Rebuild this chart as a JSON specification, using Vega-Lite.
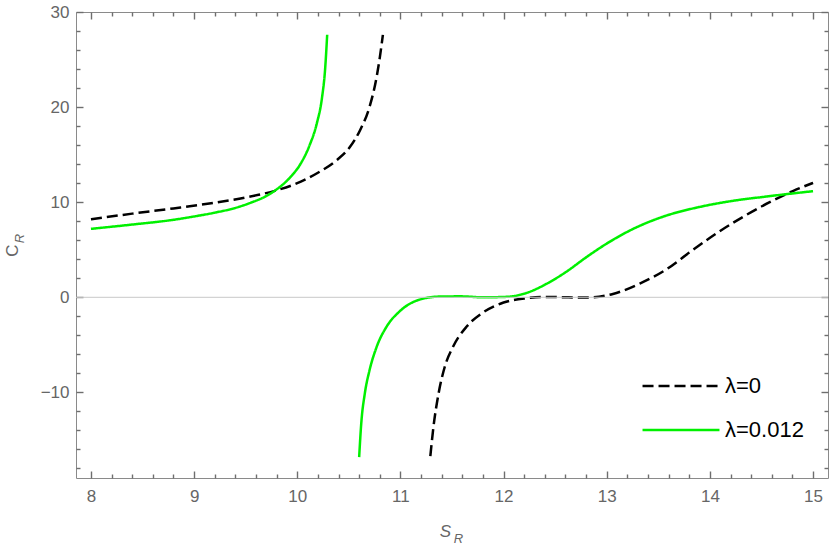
{
  "$schema": "https://vega.github.io/schema/vega-lite/v6.json",
  "width": 752,
  "height": 466,
  "autosize": {"type": "none"},
  "padding": {"left": 76, "top": 12, "right": 2, "bottom": 69},
  "background": "white",
  "config": {
    "view": {"stroke": "#8a8a8a", "strokeWidth": 1},
    "axis": {"domain": false, "grid": false, "labelFont": "Liberation Sans", "titleFont": "Liberation Sans", "labelColor": "#666666", "titleColor": "#666666", "titleFontWeight": "normal"}
  },
  "datasets": {
    "curves": [
      {"s": 8.0, "c": 8.2, "lam": "λ=0", "branch": "a1"},
      {"s": 8.4, "c": 8.8, "lam": "λ=0", "branch": "a1"},
      {"s": 8.8, "c": 9.35, "lam": "λ=0", "branch": "a1"},
      {"s": 9.2, "c": 9.95, "lam": "λ=0", "branch": "a1"},
      {"s": 9.5, "c": 10.5, "lam": "λ=0", "branch": "a1"},
      {"s": 9.8, "c": 11.25, "lam": "λ=0", "branch": "a1"},
      {"s": 10.0, "c": 12.0, "lam": "λ=0", "branch": "a1"},
      {"s": 10.2, "c": 13.1, "lam": "λ=0", "branch": "a1"},
      {"s": 10.38, "c": 14.4, "lam": "λ=0", "branch": "a1"},
      {"s": 10.51, "c": 15.8, "lam": "λ=0", "branch": "a1"},
      {"s": 10.61, "c": 17.6, "lam": "λ=0", "branch": "a1"},
      {"s": 10.7, "c": 20.0, "lam": "λ=0", "branch": "a1"},
      {"s": 10.77, "c": 23.2, "lam": "λ=0", "branch": "a1"},
      {"s": 10.8, "c": 25.2, "lam": "λ=0", "branch": "a1"},
      {"s": 10.83, "c": 27.6, "lam": "λ=0", "branch": "a1"},
      {"s": 11.29, "c": -16.7, "lam": "λ=0", "branch": "a2"},
      {"s": 11.32, "c": -13.65, "lam": "λ=0", "branch": "a2"},
      {"s": 11.37, "c": -10.1, "lam": "λ=0", "branch": "a2"},
      {"s": 11.43, "c": -7.3, "lam": "λ=0", "branch": "a2"},
      {"s": 11.51, "c": -5.2, "lam": "λ=0", "branch": "a2"},
      {"s": 11.64, "c": -3.1, "lam": "λ=0", "branch": "a2"},
      {"s": 11.8, "c": -1.6, "lam": "λ=0", "branch": "a2"},
      {"s": 12.0, "c": -0.55, "lam": "λ=0", "branch": "a2"},
      {"s": 12.22, "c": -0.1, "lam": "λ=0", "branch": "a2"},
      {"s": 12.4, "c": 0.04, "lam": "λ=0", "branch": "a2"},
      {"s": 12.61, "c": 0.0, "lam": "λ=0", "branch": "a2"},
      {"s": 12.82, "c": -0.02, "lam": "λ=0", "branch": "a2"},
      {"s": 13.06, "c": 0.35, "lam": "λ=0", "branch": "a2"},
      {"s": 13.32, "c": 1.44, "lam": "λ=0", "branch": "a2"},
      {"s": 13.58, "c": 2.95, "lam": "λ=0", "branch": "a2"},
      {"s": 13.8, "c": 4.7, "lam": "λ=0", "branch": "a2"},
      {"s": 14.06, "c": 6.7, "lam": "λ=0", "branch": "a2"},
      {"s": 14.32, "c": 8.45, "lam": "λ=0", "branch": "a2"},
      {"s": 14.58, "c": 10.0, "lam": "λ=0", "branch": "a2"},
      {"s": 14.81, "c": 11.2, "lam": "λ=0", "branch": "a2"},
      {"s": 15.0, "c": 12.03, "lam": "λ=0", "branch": "a2"},
      {"s": 8.0, "c": 7.2, "lam": "λ=0.012", "branch": "b1"},
      {"s": 8.4, "c": 7.65, "lam": "λ=0.012", "branch": "b1"},
      {"s": 8.8, "c": 8.15, "lam": "λ=0.012", "branch": "b1"},
      {"s": 9.0, "c": 8.5, "lam": "λ=0.012", "branch": "b1"},
      {"s": 9.2, "c": 8.9, "lam": "λ=0.012", "branch": "b1"},
      {"s": 9.4, "c": 9.4, "lam": "λ=0.012", "branch": "b1"},
      {"s": 9.55, "c": 9.95, "lam": "λ=0.012", "branch": "b1"},
      {"s": 9.7, "c": 10.65, "lam": "λ=0.012", "branch": "b1"},
      {"s": 9.8, "c": 11.35, "lam": "λ=0.012", "branch": "b1"},
      {"s": 9.93, "c": 12.6, "lam": "λ=0.012", "branch": "b1"},
      {"s": 10.03, "c": 14.0, "lam": "λ=0.012", "branch": "b1"},
      {"s": 10.12, "c": 16.0, "lam": "λ=0.012", "branch": "b1"},
      {"s": 10.19, "c": 18.3, "lam": "λ=0.012", "branch": "b1"},
      {"s": 10.24, "c": 21.0, "lam": "λ=0.012", "branch": "b1"},
      {"s": 10.27, "c": 24.0, "lam": "λ=0.012", "branch": "b1"},
      {"s": 10.29, "c": 27.6, "lam": "λ=0.012", "branch": "b1"},
      {"s": 10.6, "c": -16.8, "lam": "λ=0.012", "branch": "b2"},
      {"s": 10.62, "c": -13.3, "lam": "λ=0.012", "branch": "b2"},
      {"s": 10.655, "c": -10.1, "lam": "λ=0.012", "branch": "b2"},
      {"s": 10.7, "c": -7.7, "lam": "λ=0.012", "branch": "b2"},
      {"s": 10.77, "c": -5.2, "lam": "λ=0.012", "branch": "b2"},
      {"s": 10.865, "c": -3.1, "lam": "λ=0.012", "branch": "b2"},
      {"s": 10.99, "c": -1.5, "lam": "λ=0.012", "branch": "b2"},
      {"s": 11.17, "c": -0.3, "lam": "λ=0.012", "branch": "b2"},
      {"s": 11.38, "c": 0.08, "lam": "λ=0.012", "branch": "b2"},
      {"s": 11.58, "c": 0.1, "lam": "λ=0.012", "branch": "b2"},
      {"s": 11.8, "c": 0.0, "lam": "λ=0.012", "branch": "b2"},
      {"s": 12.03, "c": 0.05, "lam": "λ=0.012", "branch": "b2"},
      {"s": 12.22, "c": 0.45, "lam": "λ=0.012", "branch": "b2"},
      {"s": 12.42, "c": 1.44, "lam": "λ=0.012", "branch": "b2"},
      {"s": 12.61, "c": 2.7, "lam": "λ=0.012", "branch": "b2"},
      {"s": 12.8, "c": 4.2, "lam": "λ=0.012", "branch": "b2"},
      {"s": 13.0, "c": 5.65, "lam": "λ=0.012", "branch": "b2"},
      {"s": 13.25, "c": 7.16, "lam": "λ=0.012", "branch": "b2"},
      {"s": 13.58, "c": 8.6, "lam": "λ=0.012", "branch": "b2"},
      {"s": 13.9, "c": 9.5, "lam": "λ=0.012", "branch": "b2"},
      {"s": 14.22, "c": 10.14, "lam": "λ=0.012", "branch": "b2"},
      {"s": 14.55, "c": 10.6, "lam": "λ=0.012", "branch": "b2"},
      {"s": 15.0, "c": 11.16, "lam": "λ=0.012", "branch": "b2"}
    ]
  },
  "resolve": {"axis": {"x": "independent", "y": "independent"}},
  "layer": [
    {
      "data": {"name": "curves"},
      "mark": {"type": "line", "strokeWidth": 2.5, "interpolate": "monotone"},
      "encoding": {
        "x": {"field": "s", "type": "quantitative", "scale": {"domain": [7.855, 15.145], "nice": false, "zero": false},
          "axis": {"orient": "bottom", "values": [8, 9, 10, 11, 12, 13, 14, 15], "offset": -7, "tickSize": 7, "tickColor": "#6e6e6e", "tickWidth": 1.4, "labelPadding": 10, "labelFontSize": 17,
            "title": "S", "titleFontSize": 17, "titleFontStyle": "italic", "titleX": 369, "titleY": 60, "titleAlign": "center", "titleBaseline": "middle", "titleAngle": 0}},
        "y": {"field": "c", "type": "quantitative", "scale": {"domain": [-19, 30], "nice": false, "zero": false},
          "axis": {"orient": "left", "values": [-10, 0, 10, 20, 30], "offset": -7, "tickSize": 7, "tickColor": "#6e6e6e", "tickWidth": 1.4, "labelPadding": 7, "labelFontSize": 17,
            "title": "C", "titleFontSize": 17, "titleX": -71, "titleY": 238, "titleAngle": -90, "titleAlign": "center", "titleBaseline": "middle"}},
        "color": {"field": "lam", "type": "nominal", "scale": {"domain": ["λ=0", "λ=0.012"], "range": ["#000000", "#00f000"]},
          "legend": {"orient": "none", "legendX": 594, "legendY": 363, "title": null, "symbolType": "M-4,0H4", "symbolSize": 370,
            "symbolStrokeWidth": 2.5, "labelFontSize": 22, "labelColor": "black", "labelFont": "Liberation Sans", "labelOffset": 33,
            "rowPadding": 22, "padding": 0, "symbolOpacity": 1}},
        "strokeDash": {"field": "lam", "type": "nominal", "scale": {"domain": ["λ=0", "λ=0.012"], "range": [[11, 5], [1, 0]]}},
        "detail": {"field": "branch", "type": "nominal"}
      }
    },
    {
      "data": {"name": "curves"},
      "mark": {"type": "point", "opacity": 0},
      "encoding": {
        "x": {"field": "s", "type": "quantitative", "scale": {"domain": [7.855, 15.145], "nice": false, "zero": false},
          "axis": {"orient": "bottom", "values": [8.2, 8.4, 8.6, 8.8, 9.2, 9.4, 9.6, 9.8, 10.2, 10.4, 10.6, 10.8, 11.2, 11.4, 11.6, 11.8, 12.2, 12.4, 12.6, 12.8, 13.2, 13.4, 13.6, 13.8, 14.2, 14.4, 14.6, 14.8],
            "offset": -4, "tickSize": 4, "tickColor": "#6e6e6e", "tickWidth": 1.4, "labels": false, "title": "R", "titleFontSize": 13, "titleFontStyle": "italic", "titleX": 382, "titleY": 64, "titleAlign": "center", "titleBaseline": "middle", "titleAngle": 0}},
        "y": {"field": "c", "type": "quantitative", "scale": {"domain": [-19, 30], "nice": false, "zero": false},
          "axis": {"orient": "left", "values": [-18, -16, -14, -12, -8, -6, -4, -2, 2, 4, 6, 8, 12, 14, 16, 18, 22, 24, 26, 28],
            "offset": -4, "tickSize": 4, "tickColor": "#6e6e6e", "tickWidth": 1.4, "labels": false, "title": "R", "titleFontSize": 13, "titleFontStyle": "italic", "titleX": -61, "titleY": 226, "titleAngle": -90, "titleAlign": "center", "titleBaseline": "middle"}}
      }
    },
    {
      "data": {"name": "curves"},
      "mark": {"type": "point", "opacity": 0},
      "encoding": {
        "x": {"field": "s", "type": "quantitative", "scale": {"domain": [7.855, 15.145], "nice": false, "zero": false},
          "axis": {"orient": "top", "values": [8, 9, 10, 11, 12, 13, 14, 15], "offset": -7, "tickSize": 7, "tickColor": "#6e6e6e", "tickWidth": 1.4, "labels": false, "title": null}},
        "y": {"field": "c", "type": "quantitative", "scale": {"domain": [-19, 30], "nice": false, "zero": false},
          "axis": {"orient": "right", "values": [-18, -16, -14, -12, -8, -6, -4, -2, 2, 4, 6, 8, 12, 14, 16, 18, 22, 24, 26, 28],
            "offset": -4, "tickSize": 4, "tickColor": "#6e6e6e", "tickWidth": 1.4, "labels": false, "title": null}}
      }
    },
    {
      "data": {"name": "curves"},
      "mark": {"type": "point", "opacity": 0},
      "encoding": {
        "x": {"field": "s", "type": "quantitative", "scale": {"domain": [7.855, 15.145], "nice": false, "zero": false},
          "axis": {"orient": "top", "values": [8.2, 8.4, 8.6, 8.8, 9.2, 9.4, 9.6, 9.8, 10.2, 10.4, 10.6, 10.8, 11.2, 11.4, 11.6, 11.8, 12.2, 12.4, 12.6, 12.8, 13.2, 13.4, 13.6, 13.8, 14.2, 14.4, 14.6, 14.8],
            "offset": -4, "tickSize": 4, "tickColor": "#6e6e6e", "tickWidth": 1.4, "labels": false, "title": null}},
        "y": {"field": "c", "type": "quantitative", "scale": {"domain": [-19, 30], "nice": false, "zero": false}, "axis": null}
      }
    },
    {
      "data": {"values": [{"z": 0}]},
      "mark": {"type": "rule", "color": "#c8c8c8", "strokeWidth": 1},
      "encoding": {
        "y": {"field": "z", "type": "quantitative", "scale": {"domain": [-19, 30], "nice": false, "zero": false},
          "axis": {"orient": "right", "values": [-10, 0, 10, 20, 30], "offset": -7, "tickSize": 7, "tickColor": "#6e6e6e", "tickWidth": 1.4, "labels": false, "title": null}}
      }
    }
  ]
}
